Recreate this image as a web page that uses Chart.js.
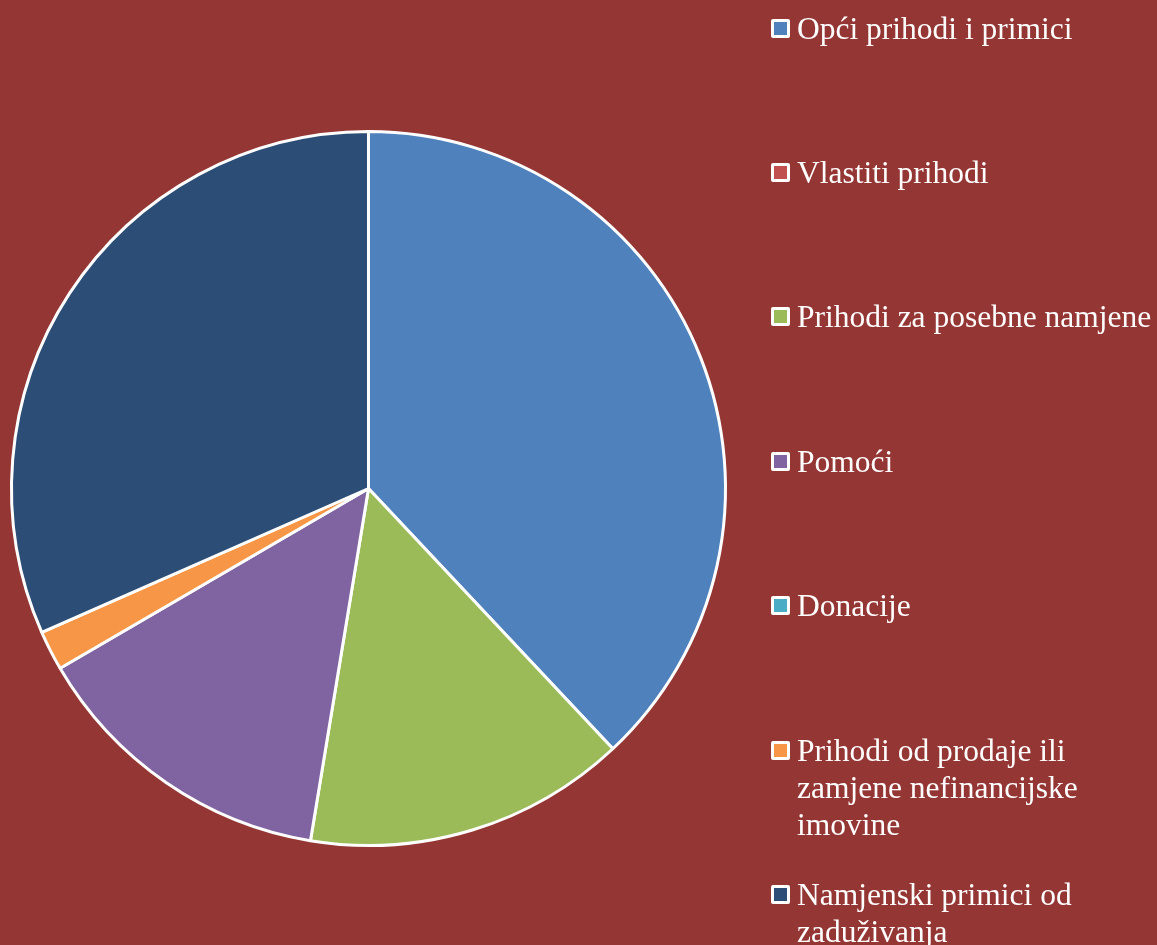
<!DOCTYPE html>
<html>
<head>
<meta charset="utf-8">
<script src="https://cdn.jsdelivr.net/npm/chart.js@4"></script>
<style>
  html, body { margin: 0; padding: 0; background: #943634; }
  #wrap { position: relative; width: 1157px; height: 945px; overflow: hidden; }
  #chart { position: absolute; left: 0; top: 0; }
  #legend { position: absolute; left: 0; top: 0; font-family: "Liberation Serif", "Times New Roman", serif; font-size: 31.5px; color: #fff; }
  .item { position: absolute; left: 771px; width: 386px; line-height: 37px; }
  .box { position: absolute; left: 0; top: 9px; width: 13px; height: 13px; border: 3px solid #fff; border-radius: 2px; }
  .txt { position: absolute; left: 26px; top: 0; white-space: nowrap; }
</style>
</head>
<body>
<div id="wrap">
  <canvas id="chart" width="1157" height="945"></canvas>
  <div id="legend"></div>
</div>
<script>
const labels = [
  "Opći prihodi i primici",
  "Vlastiti prihodi",
  "Prihodi za posebne namjene",
  "Pomoći",
  "Donacije",
  "Prihodi od prodaje ili zamjene nefinancijske imovine",
  "Namjenski primici od zaduživanja"
];
const legendLines = [
  ["Opći prihodi i primici"],
  ["Vlastiti prihodi"],
  ["Prihodi za posebne namjene"],
  ["Pomoći"],
  ["Donacije"],
  ["Prihodi od prodaje ili", "zamjene nefinancijske", "imovine"],
  ["Namjenski primici od", "zaduživanja"]
];
const shares = [38.0, 0, 14.6, 14.0, 0, 1.8, 31.6];
const colors = ["#4F81BD", "#C0504D", "#9BBB59", "#8064A2", "#4BACC6", "#F79646", "#2C4D75"];

new Chart(document.getElementById("chart"), {
  type: "pie",
  data: {
    labels: labels,
    datasets: [{
      data: shares,
      backgroundColor: colors,
      borderColor: "#ffffff",
      borderWidth: 3,
      hoverOffset: 0
    }]
  },
  options: {
    responsive: false,
    animation: false,
    layout: { padding: { left: 10, right: 430, top: 130, bottom: 98 } },
    plugins: {
      legend: { display: false },
      tooltip: { enabled: false }
    }
  }
});

// legend on the right, one entry per category
const legend = document.getElementById("legend");
legendLines.forEach((lines, i) => {
  const item = document.createElement("div");
  item.className = "item";
  item.style.top = (9.5 + i * 144.4) + "px";
  const box = document.createElement("div");
  box.className = "box";
  box.style.background = colors[i];
  const txt = document.createElement("div");
  txt.className = "txt";
  txt.innerHTML = lines.join("<br>");
  item.appendChild(box);
  item.appendChild(txt);
  legend.appendChild(item);
});
</script>
</body>
</html>
